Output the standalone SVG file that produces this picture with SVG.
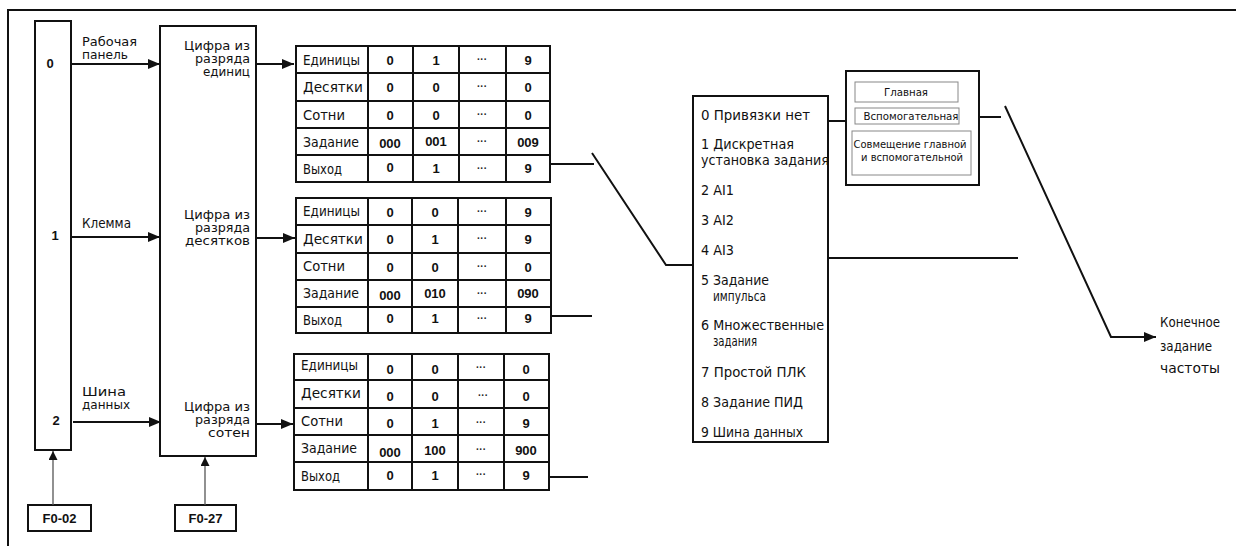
<svg xmlns="http://www.w3.org/2000/svg" width="1236" height="546" viewBox="0 0 1236 546">
<defs>
<style>
.box{fill:#fff;stroke:#111;stroke-width:2}
.tb{fill:none;stroke:#111;stroke-width:2}
.ln{fill:none;stroke:#111;stroke-width:2}
.thin{fill:none;stroke:#555;stroke-width:1.3}
.ib{fill:#fff;stroke:#888;stroke-width:1}
.t{font-family:"DejaVu Sans Condensed","Liberation Sans Narrow","Liberation Sans",sans-serif;fill:#111}
.lab{font-size:14px}
.mid{font-size:11.5px}
.sm{font-size:11px}
.num{font-family:"Liberation Sans",Arial,sans-serif;font-weight:bold;font-size:13px;fill:#111;text-anchor:middle}
.ell{font-family:"Liberation Sans",Arial,sans-serif;font-weight:bold;font-size:10px;fill:#222;text-anchor:middle}
.li{font-size:14px}
.r{text-anchor:end}
.c{text-anchor:middle}
</style>
<marker id="ah" viewBox="0 0 12 10" refX="12" refY="5" markerWidth="12" markerHeight="10" markerUnits="userSpaceOnUse" orient="auto">
<path d="M0,0 L12,5 L0,10 Z" fill="#111"/>
</marker>
<marker id="ah2" viewBox="0 0 10 10" refX="10" refY="5" markerWidth="10" markerHeight="9" markerUnits="userSpaceOnUse" orient="auto">
<path d="M0,0 L10,5 L0,10 Z" fill="#111"/>
</marker>
</defs>
<rect width="1236" height="546" fill="#fff"/>
<g id="frame">
<path class="ln" d="M8,546 V10 H1236" stroke-width="2.5"/>
</g>

<g id="source-box">
<rect class="box" x="35" y="21" width="36" height="429"/>
<text class="num" x="50" y="68">0</text>
<text class="num" x="55" y="240">1</text>
<text class="num" x="56" y="425">2</text>
</g>

<g id="f0-02">
<rect class="box" x="28" y="505" width="63" height="26"/>
<text class="num" x="59.5" y="523">F0-02</text>
</g>
<g id="f0-27">
<rect class="box" x="175" y="505" width="61" height="26"/>
<text class="num" x="205.5" y="523">F0-27</text>
</g>

<g id="digit-box">
<rect class="box" x="160" y="26" width="96" height="430"/>
<text class="t mid r" x="250" y="50" textLength="66" lengthAdjust="spacingAndGlyphs">Цифра из</text>
<text class="t mid r" x="250" y="63" textLength="55" lengthAdjust="spacingAndGlyphs">разряда</text>
<text class="t mid r" x="250" y="76" textLength="47" lengthAdjust="spacingAndGlyphs">единиц</text>
<text class="t mid r" x="250" y="219" textLength="66" lengthAdjust="spacingAndGlyphs">Цифра из</text>
<text class="t mid r" x="250" y="232" textLength="55" lengthAdjust="spacingAndGlyphs">разряда</text>
<text class="t mid r" x="250" y="245" textLength="65" lengthAdjust="spacingAndGlyphs">десятков</text>
<text class="t mid r" x="250" y="411" textLength="66" lengthAdjust="spacingAndGlyphs">Цифра из</text>
<text class="t mid r" x="250" y="424" textLength="55" lengthAdjust="spacingAndGlyphs">разряда</text>
<text class="t mid r" x="250" y="437" textLength="42" lengthAdjust="spacingAndGlyphs">сотен</text>
</g>

<g id="table-units">
<rect class="tb" x="296" y="46" width="254" height="136"/>
<path class="tb" d="M296,73 H550 M296,101 H550 M296,128 H550 M296,155 H550 M368,46 V182 M413,46 V182 M459,46 V182 M506,46 V182"/>
<text class="t lab" x="303" y="65" textLength="57" lengthAdjust="spacingAndGlyphs">Единицы</text>
<text class="t lab" x="303" y="92" textLength="60" lengthAdjust="spacingAndGlyphs">Десятки</text>
<text class="t lab" x="303" y="120" textLength="42" lengthAdjust="spacingAndGlyphs">Сотни</text>
<text class="t lab" x="303" y="147" textLength="56" lengthAdjust="spacingAndGlyphs">Задание</text>
<text class="t lab" x="303" y="174" textLength="39" lengthAdjust="spacingAndGlyphs">Выход</text>
<text class="num" x="390" y="65">0</text><text class="num" x="436" y="65">1</text><text class="ell" x="482" y="63">···</text><text class="num" x="528" y="65">9</text>
<text class="num" x="390" y="92">0</text><text class="num" x="436" y="92">0</text><text class="ell" x="482" y="90">···</text><text class="num" x="528" y="92">0</text>
<text class="num" x="390" y="120">0</text><text class="num" x="436" y="120">0</text><text class="ell" x="482" y="118">···</text><text class="num" x="528" y="120">0</text>
<text class="num" x="390" y="148">000</text><text class="num" x="436" y="146">001</text><text class="ell" x="482" y="145">···</text><text class="num" x="528" y="147">009</text>
<text class="num" x="390" y="172">0</text><text class="num" x="436" y="173">1</text><text class="ell" x="482" y="172">···</text><text class="num" x="528" y="173">9</text>
</g>

<g id="table-tens">
<rect class="tb" x="296" y="198" width="255" height="135"/>
<path class="tb" d="M296,225 H551 M296,253 H551 M296,280 H551 M296,307 H551 M368,198 V333 M412,198 V333 M458,198 V333 M506,198 V333"/>
<text class="t lab" x="303" y="216" textLength="57" lengthAdjust="spacingAndGlyphs">Единицы</text>
<text class="t lab" x="303" y="244" textLength="60" lengthAdjust="spacingAndGlyphs">Десятки</text>
<text class="t lab" x="303" y="271" textLength="42" lengthAdjust="spacingAndGlyphs">Сотни</text>
<text class="t lab" x="303" y="298" textLength="56" lengthAdjust="spacingAndGlyphs">Задание</text>
<text class="t lab" x="303" y="325" textLength="39" lengthAdjust="spacingAndGlyphs">Выход</text>
<text class="num" x="390" y="217">0</text><text class="num" x="435" y="217">0</text><text class="ell" x="482" y="215">···</text><text class="num" x="528" y="217">9</text>
<text class="num" x="390" y="244">0</text><text class="num" x="435" y="244">1</text><text class="ell" x="482" y="242">···</text><text class="num" x="528" y="244">9</text>
<text class="num" x="390" y="272">0</text><text class="num" x="435" y="272">0</text><text class="ell" x="482" y="270">···</text><text class="num" x="528" y="272">0</text>
<text class="num" x="390" y="300">000</text><text class="num" x="435" y="298">010</text><text class="ell" x="482" y="297">···</text><text class="num" x="528" y="298">090</text>
<text class="num" x="390" y="323">0</text><text class="num" x="435" y="323">1</text><text class="ell" x="482" y="322">···</text><text class="num" x="528" y="323">9</text>
</g>

<g id="table-hundreds">
<rect class="tb" x="294" y="354" width="255" height="136"/>
<path class="tb" d="M294,380 H549 M294,408 H549 M294,435 H549 M294,462 H549 M368,354 V490 M412,354 V490 M458,354 V490 M504,354 V490"/>
<text class="t lab" x="301" y="370" textLength="57" lengthAdjust="spacingAndGlyphs">Единицы</text>
<text class="t lab" x="301" y="398" textLength="60" lengthAdjust="spacingAndGlyphs">Десятки</text>
<text class="t lab" x="301" y="426" textLength="42" lengthAdjust="spacingAndGlyphs">Сотни</text>
<text class="t lab" x="301" y="453" textLength="56" lengthAdjust="spacingAndGlyphs">Задание</text>
<text class="t lab" x="301" y="481" textLength="39" lengthAdjust="spacingAndGlyphs">Выход</text>
<text class="num" x="390" y="374">0</text><text class="num" x="435" y="374">0</text><text class="ell" x="481" y="371">···</text><text class="num" x="526" y="374">0</text>
<text class="num" x="390" y="401">0</text><text class="num" x="435" y="401">0</text><text class="ell" x="483" y="399">···</text><text class="num" x="526" y="401">0</text>
<text class="num" x="390" y="428">0</text><text class="num" x="435" y="428">1</text><text class="ell" x="481" y="426">···</text><text class="num" x="526" y="428">9</text>
<text class="num" x="390" y="457">000</text><text class="num" x="435" y="455">100</text><text class="ell" x="481" y="453">···</text><text class="num" x="526" y="455">900</text>
<text class="num" x="390" y="480">0</text><text class="num" x="435" y="480">1</text><text class="ell" x="481" y="478">···</text><text class="num" x="526" y="480">9</text>
</g>

<g id="source-select">
<rect class="box" x="693" y="96" width="135" height="346"/>
<text class="t li" x="701" y="120" textLength="109" lengthAdjust="spacingAndGlyphs">0 Привязки нет</text>
<text class="t li" x="701" y="149" textLength="93" lengthAdjust="spacingAndGlyphs">1 Дискретная</text>
<text class="t li" x="701" y="165" textLength="128" lengthAdjust="spacingAndGlyphs">установка задания</text>
<text class="t li" x="701" y="195" textLength="33" lengthAdjust="spacingAndGlyphs">2 AI1</text>
<text class="t li" x="701" y="225" textLength="33" lengthAdjust="spacingAndGlyphs">3 AI2</text>
<text class="t li" x="701" y="255" textLength="33" lengthAdjust="spacingAndGlyphs">4 AI3</text>
<text class="t li" x="701" y="285" textLength="68" lengthAdjust="spacingAndGlyphs">5 Задание</text>
<text class="t li" x="713" y="301" textLength="53" lengthAdjust="spacingAndGlyphs">импульса</text>
<text class="t li" x="701" y="330" textLength="123" lengthAdjust="spacingAndGlyphs">6 Множественные</text>
<text class="t li" x="713" y="346" textLength="44" lengthAdjust="spacingAndGlyphs">задания</text>
<text class="t li" x="701" y="377" textLength="105" lengthAdjust="spacingAndGlyphs">7 Простой ПЛК</text>
<text class="t li" x="701" y="407" textLength="102" lengthAdjust="spacingAndGlyphs">8 Задание ПИД</text>
<text class="t li" x="701" y="437" textLength="102" lengthAdjust="spacingAndGlyphs">9 Шина данных</text>
</g>

<g id="combine-box">
<rect class="box" x="846" y="71" width="133" height="114"/>
<rect class="ib" x="855" y="82" width="103" height="20"/>
<text class="t sm c" x="906" y="96" textLength="44" lengthAdjust="spacingAndGlyphs">Главная</text>
<rect class="ib" x="855" y="108" width="104" height="16"/>
<text class="t sm c" x="911" y="120" textLength="95" lengthAdjust="spacingAndGlyphs">Вспомогательная</text>
<rect class="ib" x="852" y="131" width="119" height="44"/>
<text class="t sm c" x="910" y="148" textLength="113" lengthAdjust="spacingAndGlyphs">Совмещение главной</text>
<text class="t sm c" x="912" y="161" textLength="102" lengthAdjust="spacingAndGlyphs">и вспомогательной</text>
</g>

<g id="labels">
<text class="t mid" x="82" y="46" textLength="55" lengthAdjust="spacingAndGlyphs">Рабочая</text>
<text class="t mid" x="82" y="59" textLength="46" lengthAdjust="spacingAndGlyphs">панель</text>
<text class="t lab" x="82" y="228" textLength="49" lengthAdjust="spacingAndGlyphs">Клемма</text>
<text class="t mid" x="82" y="396" textLength="44" lengthAdjust="spacingAndGlyphs">Шина</text>
<text class="t mid" x="82" y="409" textLength="48" lengthAdjust="spacingAndGlyphs">данных</text>
<text class="t lab" x="1160" y="327" textLength="60" lengthAdjust="spacingAndGlyphs">Конечное</text>
<text class="t lab" x="1160" y="351" textLength="52" lengthAdjust="spacingAndGlyphs">задание</text>
<text class="t lab" x="1160" y="373" textLength="60" lengthAdjust="spacingAndGlyphs">частоты</text>
</g>

<g id="connectors">
<line class="ln" x1="71" y1="64" x2="160" y2="64" marker-end="url(#ah)"/>
<line class="ln" x1="71" y1="237" x2="160" y2="237" marker-end="url(#ah)"/>
<line class="ln" x1="73" y1="422" x2="161" y2="422" marker-end="url(#ah)"/>
<line class="ln" x1="256" y1="64" x2="294" y2="64" marker-end="url(#ah)"/>
<line class="ln" x1="256" y1="238" x2="295" y2="238" marker-end="url(#ah)"/>
<line class="ln" x1="256" y1="424" x2="293" y2="424" marker-end="url(#ah)"/>
<line class="thin" x1="53" y1="505" x2="53" y2="451" marker-end="url(#ah2)"/>
<line class="thin" x1="205" y1="505" x2="205" y2="457" marker-end="url(#ah2)"/>
<line class="ln" x1="550" y1="164" x2="594" y2="164"/>
<polyline class="ln" points="592,153 666,265 693,265"/>
<line class="ln" x1="551" y1="316" x2="592" y2="316"/>
<line class="ln" x1="549" y1="477" x2="588" y2="477"/>
<line class="ln" x1="828" y1="258" x2="1018" y2="258"/>
<line class="ln" x1="828" y1="121" x2="846" y2="121"/>
<line class="ln" x1="979" y1="117" x2="1001" y2="117"/>
<polyline class="ln" points="1005,106 1111,337 1156,337" marker-end="url(#ah)"/>
</g>
</svg>
